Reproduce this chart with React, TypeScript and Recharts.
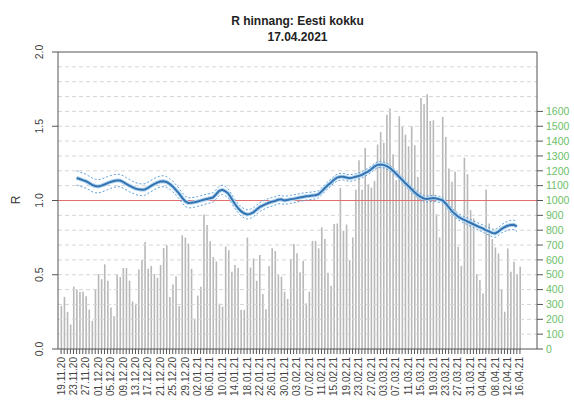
import React from "react";
import {
  ComposedChart,
  Bar,
  Line,
  XAxis,
  YAxis,
  ReferenceLine,
} from "recharts";

// daily new cases (right axis), 19.11.20 .. 16.04.21
const cases = [
  290, 350, 250, 165, 420, 400, 385, 385, 355, 265,
  190, 400, 505, 470, 570, 460, 280, 220, 505, 485,
  545, 545, 460, 320, 305, 535, 600, 720, 540, 560,
  505, 480, 565, 680, 700, 350, 435, 490, 290, 765,
  750, 710, 540, 205, 360, 420, 905, 835, 725, 620,
  590, 305, 285, 690, 665, 520, 565, 545, 265, 263,
  750, 548, 610, 460, 633, 370, 267, 559, 678, 660,
  503, 487, 386, 337, 606, 707, 644, 516, 593, 307,
  386, 727, 727, 678, 819, 741, 514, 426, 842, 845,
  1085, 796, 838, 598, 751, 1073, 1271, 1073, 1354, 1110,
  1087, 1132, 1377, 1462, 1388, 1578, 1619, 1312, 1137, 1567,
  1500, 1444, 1365, 1500, 1372, 1159, 1690, 1650, 1715, 1536,
  1540, 908, 751, 1563, 1428, 1215, 1126, 1193, 688, 560,
  1287, 1177, 935, 879, 504, 464, 374, 1074, 845, 740,
  684, 643, 404, 251, 677, 520, 587, 504, 554,
];

// R estimate, starting at day index 5
const rStart = 5;
const rValues = [
  1.152, 1.145, 1.137, 1.13, 1.118, 1.105, 1.098, 1.095, 1.1, 1.108,
  1.117, 1.125, 1.131, 1.135, 1.134, 1.125, 1.112, 1.1, 1.09, 1.08,
  1.075, 1.072, 1.074, 1.085, 1.098, 1.11, 1.12, 1.128, 1.13, 1.125,
  1.112, 1.095, 1.072, 1.048, 1.02, 0.995, 0.984, 0.985, 0.988, 0.993,
  0.999, 1.005, 1.01, 1.015, 1.02, 1.042, 1.065, 1.072, 1.062, 1.045,
  1.012, 0.978, 0.95, 0.928, 0.914, 0.906, 0.91, 0.92, 0.938, 0.955,
  0.966, 0.976, 0.985, 0.991, 0.997, 1.005, 1.008, 1.0, 1.004, 1.008,
  1.011, 1.016, 1.02, 1.024, 1.028, 1.03, 1.033, 1.035, 1.042, 1.06,
  1.082, 1.102, 1.12, 1.14, 1.154, 1.16, 1.16, 1.155, 1.15, 1.154,
  1.16, 1.165, 1.172, 1.185, 1.195, 1.21, 1.228, 1.24, 1.243, 1.24,
  1.232, 1.22, 1.202, 1.182, 1.16, 1.14, 1.118, 1.098, 1.077, 1.056,
  1.038, 1.025, 1.014, 1.01, 1.013, 1.016, 1.013, 1.008, 1.002, 0.982,
  0.955, 0.93, 0.91, 0.892, 0.88, 0.87, 0.86, 0.85, 0.84, 0.83,
  0.821, 0.812, 0.8, 0.792, 0.782, 0.778, 0.79, 0.808, 0.82, 0.83,
  0.835, 0.836, 0.825,
];

// half width of the interval (dashed lines)
const ciHalf = [
  0.048, 0.048, 0.047, 0.047, 0.046, 0.046, 0.045, 0.045, 0.044, 0.044,
  0.044, 0.043, 0.043, 0.042, 0.042, 0.042, 0.041, 0.041, 0.04, 0.04,
  0.04, 0.039, 0.039, 0.038, 0.038, 0.038, 0.037, 0.037, 0.037, 0.036,
  0.036, 0.036, 0.035, 0.035, 0.035, 0.034, 0.034, 0.034, 0.033, 0.033,
  0.033, 0.033, 0.032, 0.032, 0.032, 0.032, 0.031, 0.031, 0.031, 0.031,
  0.031, 0.031, 0.031, 0.031, 0.031, 0.031, 0.031, 0.03, 0.03, 0.03,
  0.03, 0.029, 0.029, 0.029, 0.028, 0.028, 0.028, 0.028, 0.027, 0.027,
  0.027, 0.026, 0.026, 0.026, 0.025, 0.025, 0.025, 0.025, 0.024, 0.024,
  0.024, 0.024, 0.023, 0.023, 0.023, 0.023, 0.022, 0.022, 0.022, 0.022,
  0.022, 0.021, 0.021, 0.021, 0.021, 0.021, 0.02, 0.02, 0.02, 0.02,
  0.02, 0.02, 0.02, 0.02, 0.02, 0.02, 0.02, 0.02, 0.02, 0.02,
  0.02, 0.02, 0.02, 0.02, 0.02, 0.02, 0.02, 0.02, 0.02, 0.021,
  0.021, 0.021, 0.021, 0.022, 0.022, 0.022, 0.022, 0.023, 0.023, 0.023,
  0.024, 0.024, 0.025, 0.025, 0.026, 0.026, 0.027, 0.028, 0.029, 0.03,
  0.031, 0.032, 0.033,
];

const dateLabels = [
  "19.11.20", "23.11.20", "27.11.20", "01.12.20", "05.12.20", "09.12.20",
  "13.12.20", "17.12.20", "21.12.20", "25.12.20", "29.12.20", "02.01.21",
  "06.01.21", "10.01.21", "14.01.21", "18.01.21", "22.01.21", "26.01.21",
  "30.01.21", "03.02.21", "07.02.21", "11.02.21", "15.02.21", "19.02.21",
  "23.02.21", "27.02.21", "03.03.21", "07.03.21", "11.03.21", "15.03.21",
  "19.03.21", "23.03.21", "27.03.21", "31.03.21", "04.04.21", "08.04.21",
  "12.04.21", "16.04.21",
];
const labelEvery = 4;

const leftTicks = [0, 0.5, 1, 1.5, 2];
const rightTicks = [
  0, 100, 200, 300, 400, 500, 600, 700, 800, 900, 1000, 1100, 1200, 1300,
  1400, 1500, 1600,
];
const gridLevels = [
  0.1, 0.2, 0.3, 0.4, 0.5, 0.6, 0.7, 0.8, 0.9, 1.0, 1.1, 1.2, 1.3, 1.4, 1.5,
  1.6, 1.7, 1.8, 1.9,
];

const data = cases.map((c, i) => {
  const k = i - rStart;
  const has = k >= 0 && k < rValues.length;
  return {
    i,
    cases: c,
    r: has ? rValues[k] : null,
    hi: has ? rValues[k] + ciHalf[k] : null,
    lo: has ? rValues[k] - ciHalf[k] : null,
  };
});
const xTicks = cases.map((_, i) => i);

const FONT = "'Liberation Sans', Arial, Helvetica, sans-serif";
const AX = "#555555";

const XTick = (props: any) => {
  const { x, y, payload } = props;
  const v = payload.value;
  if (v % labelEvery !== 0) return <g />;
  const label = dateLabels[v / labelEvery];
  return (
    <text
      transform={`translate(${x},${y + 1}) rotate(-90)`}
      textAnchor="end"
      dy="0.35em"
      fontSize={10}
      fontFamily={FONT}
      fill="#444"
    >
      {label}
    </text>
  );
};

const LeftTick = (props: any) => {
  const { x, y, payload } = props;
  return (
    <text
      transform={`translate(${x - 7},${y}) rotate(-90)`}
      textAnchor="middle"
      fontSize={10.5}
      fontFamily={FONT}
      fill="#444"
    >
      {Number(payload.value).toFixed(1)}
    </text>
  );
};

export default function App() {
  return (
    <div style={{ position: "absolute", left: 0, top: 0, width: 574, height: 401, background: "#fff", fontFamily: FONT }}>
      <div style={{ position: "absolute", left: 0, width: 595, top: 13, textAlign: "center", fontWeight: "bold", fontSize: 12, lineHeight: "16px", color: "#222" }}>
        R hinnang: Eesti kokku
      </div>
      <div style={{ position: "absolute", left: 0, width: 595, top: 29, textAlign: "center", fontWeight: "bold", fontSize: 12, lineHeight: "16px", color: "#222" }}>
        17.04.2021
      </div>
      <div style={{ position: "absolute", left: 8, top: 192, width: 16, height: 16, lineHeight: "16px", textAlign: "center", fontSize: 12, color: "#333", transform: "rotate(-90deg)" }}>
        R
      </div>
      <ComposedChart
        width={574}
        height={401}
        data={data}
        margin={{ top: 52, right: 0, bottom: 0, left: 0 }}
        style={{ position: "absolute", left: 0, top: 0 }}
      >
        <XAxis
          dataKey="i"
          type="number"
          domain={[-1, 153.5]}
          ticks={xTicks}
          interval={0}
          tick={<XTick />}
          tickSize={5}
          tickLine={{ stroke: AX }}
          axisLine={{ stroke: AX }}
          height={52}
          allowDataOverflow
        />
        <YAxis
          yAxisId="r"
          orientation="left"
          domain={[0, 2]}
          ticks={leftTicks}
          width={58}
          tickSize={6}
          tickLine={{ stroke: AX }}
          axisLine={{ stroke: AX }}
          tick={<LeftTick />}
          allowDataOverflow
        />
        <YAxis
          yAxisId="c"
          orientation="right"
          domain={[0, 2000]}
          ticks={rightTicks}
          width={37}
          tickSize={6}
          tickMargin={3}
          tickLine={{ stroke: AX }}
          axisLine={false}
          tick={{ fill: "#6cbf68", fontSize: 10.5, fontFamily: FONT }}
          interval={0}
          allowDataOverflow
        />
        {gridLevels.map((g) => (
          <ReferenceLine
            key={g}
            yAxisId="r"
            y={g}
            stroke="#d6d6d6"
            strokeDasharray="4 3"
            strokeWidth={1}
          />
        ))}
        <Bar
          yAxisId="c"
          dataKey="cases"
          barSize={1.6}
          fill="#b8b8b8"
          isAnimationActive={false}
        />
        <ReferenceLine yAxisId="r" y={1} stroke="#e46d6d" strokeWidth={1} />
        <Line
          yAxisId="r"
          dataKey="hi"
          stroke="#5a9ed9"
          strokeWidth={1}
          strokeDasharray="2 2"
          dot={false}
          activeDot={false}
          isAnimationActive={false}
        />
        <Line
          yAxisId="r"
          dataKey="lo"
          stroke="#5a9ed9"
          strokeWidth={1}
          strokeDasharray="2 2"
          dot={false}
          activeDot={false}
          isAnimationActive={false}
        />
        <Line
          yAxisId="r"
          dataKey="r"
          stroke="#b3d7f2"
          strokeWidth={4}
          dot={false}
          activeDot={false}
          isAnimationActive={false}
        />
        <Line
          yAxisId="r"
          dataKey="r"
          stroke="#3473b0"
          strokeWidth={2}
          dot={false}
          activeDot={false}
          isAnimationActive={false}
        />
        <ReferenceLine yAxisId="r" y={2} stroke={AX} strokeWidth={1} />
        <ReferenceLine yAxisId="r" x={153.5} stroke={AX} strokeWidth={1} />
      </ComposedChart>
    </div>
  );
}
